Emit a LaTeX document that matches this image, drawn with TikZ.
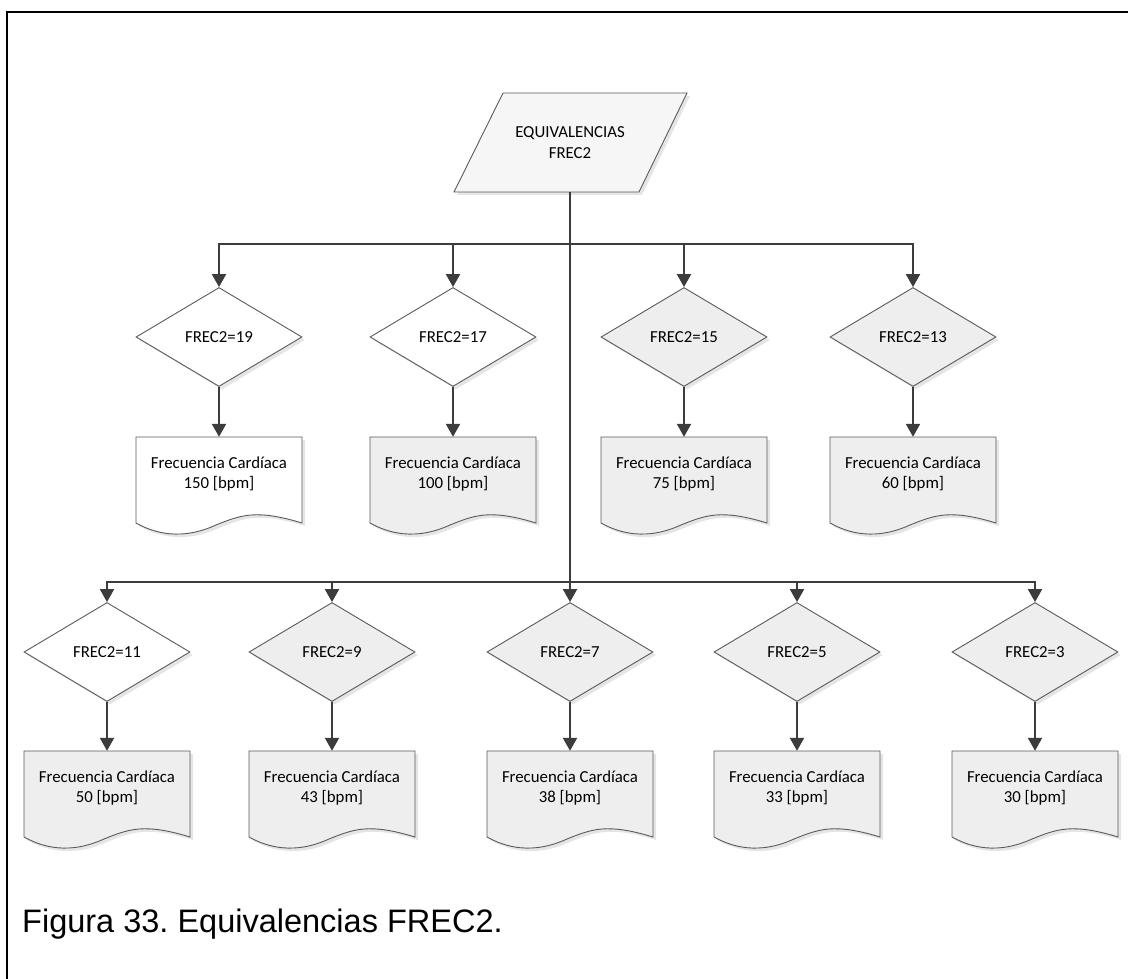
\documentclass[tikz,border=0pt]{standalone}
\usepackage{fontspec}
\setmainfont{Carlito}
\newfontfamily\capfont{Liberation Sans}
\usetikzlibrary{arrows.meta,shapes.geometric}
\definecolor{lc}{HTML}{3C3C3C}
\definecolor{oc}{HTML}{5A5A5A}
\definecolor{gf}{HTML}{EEEEEE}
\definecolor{pf}{HTML}{F6F6F6}
\newcommand\decnode[5]{% name, x, y, fill, text
  \node[dec, draw=none, fill=black, fill opacity=0.10] at (#2+3,#3+3) {};
  \node[dec, fill=#4] (#1) at (#2,#3) {#5};
}
\newcommand\docnode[5]{% name, x, ytop, fill, text
  \begin{scope}[shift={(#2,#3)}]
    \fill[black, opacity=0.10, shift={(3,3)}] (-83,0) -- (83,0) -- (83,86) .. controls (37,72) and (22,78) .. (-3,88) .. controls (-38,104) and (-65,96) .. (-83,86) -- cycle;
    \path[docline, fill=#4] (-83,0) -- (83,0) -- (83,86) .. controls (37,72) and (22,78) .. (-3,88) .. controls (-38,104) and (-65,96) .. (-83,86) -- cycle;
    \node[doctext] (#1) at (0,37) {#5};
  \end{scope}
}
\begin{document}
\begin{tikzpicture}[x=1pt,y=-1pt,
  conn/.style={draw=lc, line width=2.2pt, -{Triangle[width=14pt,length=13pt]}},
  dec/.style={diamond, draw=oc, line width=0.9pt, minimum width=166pt, minimum height=99pt, inner sep=0pt, aspect=2, font=\fontsize{16.8}{20}\selectfont},
  docline/.style={draw=oc, line width=0.9pt},
  doctext/.style={inner sep=0pt, minimum width=166pt, minimum height=74pt, align=center, font=\fontsize{16.8}{20.5}\selectfont},
]
\useasboundingbox (0,0) rectangle (1128,979);
% frame
\draw[line width=2.3pt] (7,979) -- (7,12.2) -- (1128,12.2);

% start parallelogram
\fill[black, opacity=0.10, shift={(3,3)}] (503,93) -- (687,93) -- (639,192) -- (454,192) -- cycle;
\path[docline, fill=pf] (503,93) -- (687,93) -- (639,192) -- (454,192) -- cycle;
\node[inner sep=0pt, minimum width=150pt, minimum height=99pt, align=center, font=\fontsize{16.8}{20.5}\selectfont] (p) at (570,142.5) {EQUIVALENCIAS\\FREC2};

% row 1
\decnode{d19}{219}{337}{white}{FREC2=19}
\decnode{d17}{453}{337}{white}{FREC2=17}
\decnode{d15}{684}{337}{gf}{FREC2=15}
\decnode{d13}{913}{337}{gf}{FREC2=13}
\docnode{f150}{219}{437}{white}{Frecuencia Cardíaca\\150 [bpm]}
\docnode{f100}{453}{437}{gf}{Frecuencia Cardíaca\\100 [bpm]}
\docnode{f75}{684}{437}{gf}{Frecuencia Cardíaca\\75 [bpm]}
\docnode{f60}{913}{437}{gf}{Frecuencia Cardíaca\\60 [bpm]}

% row 2
\decnode{d11}{107}{652}{white}{FREC2=11}
\decnode{d9}{332}{652}{gf}{FREC2=9}
\decnode{d7}{570}{652}{gf}{FREC2=7}
\decnode{d5}{797}{652}{gf}{FREC2=5}
\decnode{d3}{1035}{652}{gf}{FREC2=3}
\docnode{f50}{107}{751}{gf}{Frecuencia Cardíaca\\50 [bpm]}
\docnode{f43}{332}{751}{gf}{Frecuencia Cardíaca\\43 [bpm]}
\docnode{f38}{570}{751}{gf}{Frecuencia Cardíaca\\38 [bpm]}
\docnode{f33}{797}{751}{gf}{Frecuencia Cardíaca\\33 [bpm]}
\docnode{f30}{1035}{751}{gf}{Frecuencia Cardíaca\\30 [bpm]}

% connectors
\coordinate (b1) at (570,244);
\coordinate (b2) at (570,582);
\draw[conn] (p.south) -- (d7.north);
\foreach \n in {d19,d17,d15,d13} {\draw[conn] (b1) -| (\n.north);}
\foreach \n in {d11,d9,d5,d3} {\draw[conn] (b2) -| (\n.north);}
\foreach \a/\b in {d19/f150,d17/f100,d15/f75,d13/f60,d11/f50,d9/f43,d7/f38,d5/f33,d3/f30} {\draw[conn] (\a.south) -- (\b.north);}

% caption
\node[anchor=base west, inner sep=0pt, font=\capfont\fontsize{32.5}{36}\selectfont] (cap) at (22,932) {Figura 33.\ Equivalencias FREC2.};
\end{tikzpicture}
\end{document}
